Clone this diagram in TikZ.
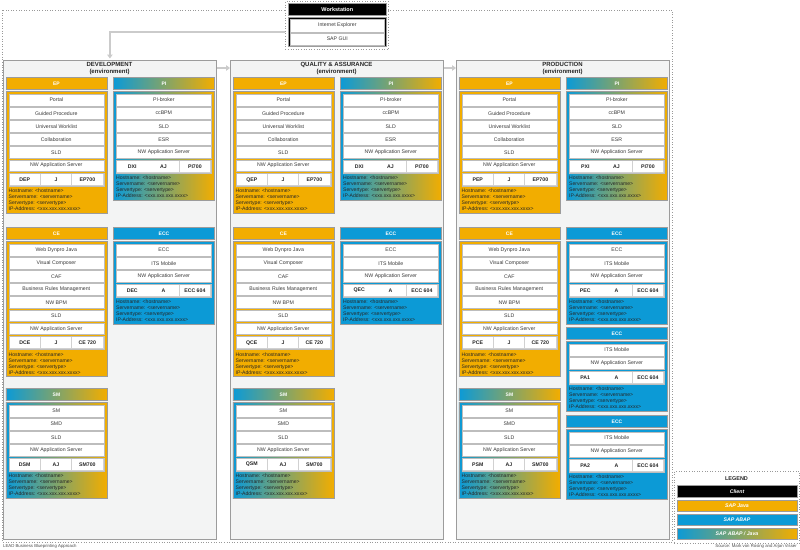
\documentclass[tikz,border=0pt]{standalone}
\usepackage{fontspec}
\setmainfont{Liberation Sans}
\usetikzlibrary{arrows.meta}
\definecolor{java}{HTML}{F2AD00}
\definecolor{abap}{HTML}{0C9AD6}
\definecolor{bord}{HTML}{9C9C9C}
\definecolor{envbg}{HTML}{F3F4F4}
\definecolor{ibord}{HTML}{BDBDBD}
\definecolor{txtc}{HTML}{3A3A3A}
\definecolor{flowc}{HTML}{CBCBCB}
\tikzset{
 javaf/.style={fill=java},
 abapf/.style={fill=abap},
 mixf/.style={left color=abap,right color=java},
 hdrbox/.style={draw=bord,line width=0.9pt,minimum width=101pt,minimum height=12pt,inner sep=0,text=white,font=\fontsize{5}{6}\selectfont\bfseries},
 bodybox/.style={draw=bord,line width=0.9pt,minimum width=101pt,inner sep=0},
 itembox/.style={draw=ibord,line width=0.6pt,fill=white,minimum width=95pt,minimum height=11.5pt,inner sep=0,text=txtc,font=\fontsize{5.2}{6}\selectfont},
 sidrow/.style={draw=ibord,fill=ibord!70,line width=0.6pt,minimum width=95pt,minimum height=13pt,inner sep=0},
 sidcell/.style={fill=white,minimum width=30.5pt,minimum height=11pt,inner sep=0,text=black!85,font=\fontsize{5.2}{6}\selectfont\bfseries},
 infotext/.style={inner sep=0,align=left,text=black!85,font=\fontsize{5.1}{6}\selectfont},
 envbox/.style={draw=bord,line width=0.8pt,fill=envbg,minimum width=213pt,minimum height=479pt,inner sep=0},
 envtitle/.style={align=center,inner sep=0,font=\fontsize{6}{6.8}\selectfont\bfseries,text=black!85},
 flowline/.style={draw=flowc,line width=2pt,-{Triangle[length=4pt,width=5.5pt]}},
 dotframe/.style={draw=black!40,dotted,line width=0.6pt},
 legbox/.style={draw=bord,line width=0.9pt,minimum width=120pt,minimum height=11.5pt,inner sep=0,text=white,font=\fontsize{5.2}{6}\selectfont\bfseries\itshape},
 foottext/.style={inner sep=0,text=black!70,font=\fontsize{4.3}{5}\selectfont},
}
% #1 name, #2 x, #3 y, #4 fill style, #5 title, #6 item count, #7 items, #8 sid/type/version
\newcommand\sysbox[8]{%
  \pgfmathsetmacro\bh{56.5+(#6-1)*13.1}%
  \pgfmathsetmacro\sy{#3+14+3+(#6-1)*13.1+11.5+2}%
  \node[hdrbox,#4,anchor=north west] (#1h) at ({#2},{#3}) {#5};
  \node[bodybox,#4,anchor=north west,minimum height=\bh pt] (#1b) at ({#2},{#3+14}) {};
  \foreach \txt [count=\k] in {#7} {
    \pgfmathsetmacro\iy{#3+17+(\k-1)*13.1}
    \node[itembox,anchor=north west] (#1i\k) at ({#2+3},{\iy}) {\txt};
  }
  \node[sidrow,anchor=north west] (#1s) at ({#2+3},{\sy}) {};
  \foreach \pa/\pb/\pc in {#8} {
    \node[sidcell,anchor=west] (#1sa) at ([xshift=0.8pt]#1s.west) {\pa};
    \node[sidcell,anchor=west] (#1sb) at ([xshift=32.1pt]#1s.west) {\pb};
    \node[sidcell,anchor=west] (#1sc) at ([xshift=63.4pt]#1s.west) {\pc};
  }
  \node[infotext,anchor=north west] (#1t) at ({#2+3},{\sy+16}) {Hostname: <hostname>\\Servername: <servername>\\Servertype: <servertype>\\IP-Address: <xxx.xxx.xxx.xxxx>};
}
\begin{document}
\begin{tikzpicture}[x=1pt,y=-1pt]
\useasboundingbox (0,0) rectangle (800,549);
\fill[white] (0,0) rectangle (800,549);
% outer frame
\draw[dotframe] (2,10) rectangle (672,542);
% legend frame
\node[dotframe,minimum width=125pt,minimum height=72pt,anchor=north west,inner sep=0] (legend) at (674,471) {};
% workstation
\node[dotframe,fill=white,minimum width=103pt,minimum height=48pt,anchor=north west,inner sep=0] (ws) at (285,1) {};
\node[fill=black,draw=bord,line width=0.6pt,minimum width=98pt,minimum height=12pt,anchor=north west,inner sep=0,text=white,font=\fontsize{5.5}{6}\selectfont\bfseries] (wsh) at (288,3) {Workstation};
\node[fill=black,draw=bord,line width=0.6pt,minimum width=98pt,minimum height=29pt,anchor=north west,inner sep=0] (wsb) at (288,17) {};
\node[itembox,minimum width=94pt,minimum height=12.5pt,anchor=north west] (ie) at (290,19) {Internet Explorer};
\node[itembox,minimum width=94pt,minimum height=12.5pt,anchor=north west] (gui) at (290,32.5) {SAP GUI};
% environments
\node[envbox,anchor=north west] (dev) at (3,60) {};
\node[envbox,anchor=north west] (qa) at (230,60) {};
\node[envbox,anchor=north west] (prod) at (456,60) {};
\node[envtitle] (devt) at (109.5,68.5) {DEVELOPMENT\\(environment)};
\node[envtitle] (qat) at (336.5,68.5) {QUALITY \& ASSURANCE\\(environment)};
\node[envtitle] (prodt) at (562.5,68.5) {PRODUCTION\\(environment)};
% connectors
\draw[flowline,shorten >=1.5pt] (ws.west |- wsb.west) -| (dev.north);
\draw[flowline] ([yshift=-8pt]dev.north east) -- ([yshift=-8pt]qa.north west);
\draw[flowline] ([yshift=-8pt]qa.north east) -- ([yshift=-8pt]prod.north west);
% development
\sysbox{dep}{5.5}{77}{javaf}{EP}{6}{Portal,Guided Procedure,Universal Worklist,Collaboration,SLD,NW Application Server}{DEP/J/EP700}
\sysbox{dxi}{113}{77}{mixf}{PI}{5}{PI-broker,ccBPM,SLD,ESR,NW Application Server}{DXI/AJ/PI700}
\sysbox{dce}{5.5}{227}{javaf}{CE}{7}{Web Dynpro Java,Visual Composer,CAF,Business Rules Management,NW BPM,SLD,NW Application Server}{DCE/J/CE 720}
\sysbox{dec}{113}{227}{abapf}{ECC}{3}{ECC,ITS Mobile,NW Application Server}{DEC/A/ECC 604}
\sysbox{dsm}{5.5}{388}{mixf}{SM}{4}{SM,SMD,SLD,NW Application Server}{DSM/AJ/SM700}
% quality assurance
\sysbox{qep}{232.5}{77}{javaf}{EP}{6}{Portal,Guided Procedure,Universal Worklist,Collaboration,SLD,NW Application Server}{QEP/J/EP700}
\sysbox{qxi}{340}{77}{mixf}{PI}{5}{PI-broker,ccBPM,SLD,ESR,NW Application Server}{DXI/AJ/PI700}
\sysbox{qce}{232.5}{227}{javaf}{CE}{7}{Web Dynpro Java,Visual Composer,CAF,Business Rules Management,NW BPM,SLD,NW Application Server}{QCE/J/CE 720}
\sysbox{qec}{340}{227}{abapf}{ECC}{3}{ECC,ITS Mobile,NW Application Server}{QEC/A/ECC 604}
\sysbox{qsm}{232.5}{388}{mixf}{SM}{4}{SM,SMD,SLD,NW Application Server}{QSM/AJ/SM700}
% production
\sysbox{pep}{458.5}{77}{javaf}{EP}{6}{Portal,Guided Procedure,Universal Worklist,Collaboration,SLD,NW Application Server}{PEP/J/EP700}
\sysbox{pxi}{566}{77}{mixf}{PI}{5}{PI-broker,ccBPM,SLD,ESR,NW Application Server}{PXI/AJ/PI700}
\sysbox{pce}{458.5}{227}{javaf}{CE}{7}{Web Dynpro Java,Visual Composer,CAF,Business Rules Management,NW BPM,SLD,NW Application Server}{PCE/J/CE 720}
\sysbox{pec}{566}{227}{abapf}{ECC}{3}{ECC,ITS Mobile,NW Application Server}{PEC/A/ECC 604}
\sysbox{paa}{566}{327}{abapf}{ECC}{2}{ITS Mobile,NW Application Server}{PA1/A/ECC 604}
\sysbox{pab}{566}{415}{abapf}{ECC}{2}{ITS Mobile,NW Application Server}{PA2/A/ECC 604}
\sysbox{psm}{458.5}{388}{mixf}{SM}{4}{SM,SMD,SLD,NW Application Server}{PSM/AJ/SM700}
% legend
\node[inner sep=0,font=\fontsize{5.5}{6}\selectfont\bfseries,text=black!85] (legt) at (736.5,478.5) {LEGEND};
\node[legbox,fill=black] (lc) at (737,491.5) {Client};
\node[legbox,fill=java] (lj) at (737,506) {SAP Java};
\node[legbox,fill=abap] (la) at (737,520) {SAP ABAP};
\node[legbox,left color=abap,right color=java] (lm) at (737,534) {SAP ABAP / Java};
% footer
\node[foottext,anchor=west] (f1) at (3,546) {LEAD Business Blueprinting Approach};
\node[foottext,anchor=east] (f2) at (797,546) {Source: Mark von Rosing and Arjan Visser};
\end{tikzpicture}
\end{document}
